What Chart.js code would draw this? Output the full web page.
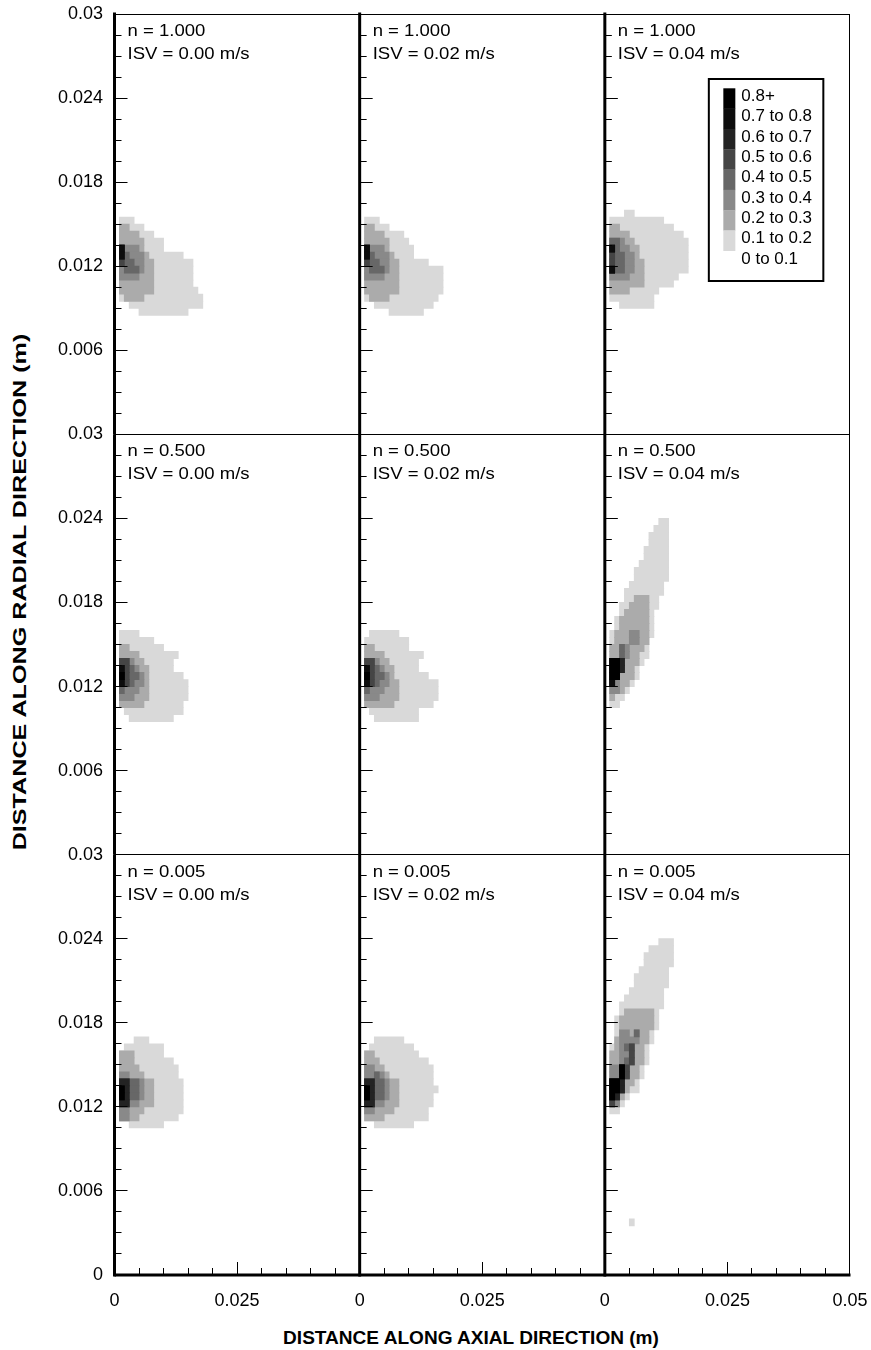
<!DOCTYPE html>
<html>
<head>
<meta charset="utf-8">
<title>Contour panels</title>
<script src="https://cdn.jsdelivr.net/npm/chart.js@4.4.1/dist/chart.umd.min.js"></script>
<style>
  html, body { margin: 0; background: #fff; }
  #page { position: relative; width: 871px; height: 1350px; overflow: hidden; }
  #page canvas { position: absolute; left: 0; top: 0; }
  .axis-title { position: absolute; white-space: nowrap; font: bold 18.5px "Liberation Sans", Arial, sans-serif; line-height: 1; color: #000; }
  #xTitle { left: 470.5px; top: 1329px; transform: translateX(-50%) scaleX(1.03); }
  #yTitle { left: 20px; top: 592px; transform: translate(-50%, -50%) rotate(-90deg) scaleX(1.36); }
</style>
</head>
<body>
<div id="page">
  <div class="axis-title" id="xTitle">DISTANCE ALONG AXIAL DIRECTION (m)</div>
  <div class="axis-title" id="yTitle">DISTANCE ALONG RADIAL DIRECTION (m)</div>
</div>
<script>
Chart.defaults.font.family = '"Liberation Sans", Arial, sans-serif';
Chart.defaults.color = '#000';

const N_VALUES = ['1.000', '0.500', '0.005'];
const ISV_VALUES = ['0.00', '0.02', '0.04'];

const X_TICKS = [0, 0.005, 0.01, 0.015, 0.02, 0.025, 0.03, 0.035, 0.04, 0.045, 0.05];
const X_MAJOR = [0, 0.025, 0.05];
const X_LABELS = ['0', '0.025', '0.05'];
const Y_TICKS = [0, 0.0015, 0.003, 0.0045, 0.006, 0.0075, 0.009, 0.0105, 0.012, 0.0135, 0.015,
  0.0165, 0.018, 0.0195, 0.021, 0.0225, 0.024, 0.0255, 0.027, 0.0285, 0.03];
const Y_MAJOR = [0, 0.006, 0.012, 0.018, 0.024, 0.03];
const Y_LABELS = ['0', '0.006', '0.012', '0.018', '0.024', '0.03'];

const LEGEND_LABELS = ['0.8+', '0.7 to 0.8', '0.6 to 0.7', '0.5 to 0.6', '0.4 to 0.5',
  '0.3 to 0.4', '0.2 to 0.3', '0.1 to 0.2', '0 to 0.1'];
const LEVEL_COLORS = ['#ffffff', '#d9d9d9', '#ababab', '#898989', '#676767',
  '#454545', '#232323', '#0d0d0d', '#000000'];

// cell grid: columns of 0.001 m starting at x = 0, rows of 0.0005 m going down from a top value
// '.' = 0 to 0.1, digit k = k/10 to (k+1)/10, 8 = 0.8+
const CELL_W = 0.001, CELL_H = 0.0005;

const n1000_isv000 = [
  '.111',
  '.22111',
  '.2222111',
  '.222221111',
  '.733321111',
  '.7433321111111',
  '.544332211111111',
  '.344432211111111',
  '.333322211111111',
  '.222222211111111',
  '.2222222111111111',
  '.12222111111111111',
  '...111111111111111',
  '.....1111111111',
];
const n1000_isv002 = [
  '.111',
  '.22111',
  '.22221111',
  '.222221111',
  '.7333211111',
  '.7433321111',
  '.5443322111111',
  '.3444322111111111',
  '.3333222111111111',
  '.2222222111111111',
  '.2222222111111111',
  '.122221111111111',
  '...111111111111',
  '......1111111',
];
const n1000_isv004 = [
  '....11',
  '.11111111111',
  '.2211111111111',
  '.222211111111111',
  '.4432211111111111',
  '.7433221111111111',
  '.5443321111111111',
  '.5443322111111111',
  '.7443322111111111',
  '.33332221111111',
  '.2222222111111',
  '.2222111111',
  '.111111111',
  '...1111111',
];
const n0500_isv000 = [
  '.1111',
  '.1111111',
  '.221111111',
  '.222211111111',
  '.55322111111',
  '.75432211111',
  '.8544321111111',
  '.75433211111111',
  '.43332211111111',
  '.33322211111111',
  '.2222211111111',
  '..111111111111',
  '...111111111',
];
const n0500_isv002 = [
  '..111111',
  '.111111111',
  '.221111111',
  '.222211111111',
  '.55322111111',
  '.75432211111',
  '.8544321111111',
  '.754332211111111',
  '.433322211111111',
  '.333222211111111',
  '.22222211111111',
  '..1111111111',
  '...111111111',
];
const n0500_isv004 = [
  '...........11',
  '..........111',
  '.........1111',
  '.........1111',
  '........11111',
  '........11111',
  '.......111111',
  '......1111111',
  '......1111111',
  '.....1111111',
  '....11111111',
  '....1122211',
  '...11222211',
  '...1222221',
  '..12222221',
  '..12222221',
  '.122233221',
  '.12223322',
  '.22432221',
  '.22432211',
  '.8862221',
  '.886221',
  '.882221',
  '.73221',
  '.3321',
  '.211',
  '.11',
];
const n0005_isv000 = [
  '....111',
  '..11111111',
  '.222111111',
  '.22211111111',
  '.222211111111',
  '.332221111111',
  '.6644322111111',
  '.8644322111111',
  '.8644322111111',
  '.6633222111111',
  '.3322211111111',
  '.332211111111',
  '...1111111',
];
const n0005_isv002 = [
  '...111111',
  '..111111111',
  '.22111111111',
  '.2221111111111',
  '.33221111111111',
  '.33432111111111',
  '.66443221111111',
  '.864432211111111',
  '.86443221111111',
  '.66332221111111',
  '.3322221111111',
  '.2222111111111',
  '...11111111',
];
const n0005_isv004 = [
  '...........111',
  '.........11111',
  '........111111',
  '........111111',
  '.......111111',
  '......1111111',
  '......1111111',
  '.....1111111',
  '....11111111',
  '...111111111',
  '...12222221',
  '..122222221',
  '..122222221',
  '..13324221',
  '..23333221',
  '.12345221',
  '.22335221',
  '.22345221',
  '.3385221',
  '.3385221',
  '.886221',
  '.886211',
  '.8621',
  '.531',
  '.11',
];
const n0005_isv004_speck = ['.....1'];

// [top of first row (m), rows] for each panel, row by row
const PANEL_BLOCKS = [
  [[0.0155, n1000_isv000]], [[0.0155, n1000_isv002]], [[0.016, n1000_isv004]],
  [[0.016, n0500_isv000]], [[0.016, n0500_isv002]], [[0.024, n0500_isv004]],
  [[0.017, n0005_isv000]], [[0.017, n0005_isv002]], [[0.024, n0005_isv004], [0.004, n0005_isv004_speck]],
];

const PAGE_W = 871, PAGE_H = 1350;
const PLOT_L = 114.5, PLOT_T = 14, PLOT_R = 850, PLOT_B = 1275;
const COL_W = (PLOT_R - PLOT_L) / 3, ROW_H = (PLOT_B - PLOT_T) / 3;
const ROW_PX = ROW_H * CELL_H / 0.03;
const Y_AXIS_W = 100, X_AXIS_H = 70;

// one floating bar per run of cells at or above a level, lighter levels first
function buildBars(blocks) {
  const bars = [];
  blocks.forEach(([top, rows]) => {
    rows.forEach((line, r) => {
      const yc = top - (r + 0.5) * CELL_H;
      for (let k = 1; k <= 8; k++) {
        let start = -1;
        for (let c = 0; c <= line.length; c++) {
          const lv = c < line.length && line[c] !== '.' ? +line[c] : 0;
          if (lv >= k && start < 0) start = c;
          if (lv < k && start >= 0) {
            bars.push({ y: yc, x: [start * CELL_W, c * CELL_W], level: k });
            start = -1;
          }
        }
      }
    });
  });
  return bars.sort((a, b) => a.level - b.level);
}

function drawLegend(ctx, a) {
  const bx = a.left + 104, by = a.top + 65, bw = 114.5, bh = 202;
  ctx.fillStyle = '#fff';
  ctx.fillRect(bx, by, bw, bh);
  ctx.lineWidth = 2;
  ctx.strokeRect(bx, by, bw, bh);
  ctx.font = '16px "Liberation Sans", Arial, sans-serif';
  ctx.textBaseline = 'middle';
  LEGEND_LABELS.forEach((text, i) => {
    const level = 8 - i;
    if (level > 0) {
      ctx.fillStyle = LEVEL_COLORS[level];
      ctx.fillRect(bx + 14.5, by + 9.3 + 20.3 * i, 12, 20.6);
    }
    ctx.fillStyle = '#000';
    ctx.save();
    ctx.translate(bx + 32.5, by + 17.7 + 20.3 * i);
    ctx.scale(1.06, 1);
    ctx.fillText(text, 0, 0);
    ctx.restore();
  });
}

const panelFrame = {
  id: 'panelFrame',
  afterDraw(chart, args, opts) {
    const { ctx, chartArea: a } = chart;
    const { x, y } = chart.scales;
    const { row, col } = opts;
    const seg = (x0, y0, x1, y1) => { ctx.beginPath(); ctx.moveTo(x0, y0); ctx.lineTo(x1, y1); ctx.stroke(); };
    ctx.save();
    ctx.strokeStyle = '#000';
    ctx.lineWidth = 1;
    Y_TICKS.forEach(v => {
      const py = Math.floor(y.getPixelForValue(v)) + 0.5;
      seg(a.left, py, a.left + (Y_MAJOR.includes(v) ? 13 : 7), py);
    });
    if (row === 2) {
      X_TICKS.forEach(v => {
        const px = Math.floor(x.getPixelForValue(v)) + 0.5;
        seg(px, a.bottom, px, a.bottom - (X_MAJOR.includes(v) ? 13 : 7));
      });
    }
    const ty = Math.floor(a.top) + 0.5;
    seg(a.left, ty, a.right, ty);
    if (col === 2) seg(Math.floor(a.right) + 0.5, a.top, Math.floor(a.right) + 0.5, a.bottom);
    ctx.lineWidth = 3;
    seg(a.left, a.top - (row === 0 ? 1.5 : 0), a.left, a.bottom + (row === 2 ? 1.5 : 0));
    if (row === 2) seg(a.left, a.bottom, a.right + 0.5, a.bottom);

    ctx.fillStyle = '#000';
    ctx.font = '17px "Liberation Sans", Arial, sans-serif';
    ctx.textBaseline = 'alphabetic';
    const note = (text, dy) => {
      ctx.save();
      ctx.translate(a.left + 13, a.top + dy);
      ctx.scale(1.09, 1);
      ctx.fillText(text, 0, 0);
      ctx.restore();
    };
    note('n = ' + N_VALUES[row], 22);
    note('ISV = ' + ISV_VALUES[col] + ' m/s', 45);
    if (opts.legend) drawLegend(ctx, a);
    ctx.restore();
  }
};

const page = document.getElementById('page');
for (let row = 0; row < 3; row++) {
  for (let col = 0; col < 3; col++) {
    const bars = buildBars(PANEL_BLOCKS[row * 3 + col]);
    const left = PLOT_L + col * COL_W, top = PLOT_T + row * ROW_H;
    const canvas = document.createElement('canvas');
    canvas.width = PAGE_W;
    canvas.height = PAGE_H;
    page.appendChild(canvas);

    new Chart(canvas, {
      type: 'bar',
      data: {
        datasets: [{
          data: bars,
          backgroundColor: bars.map(b => LEVEL_COLORS[b.level]),
          borderWidth: 0,
          barThickness: ROW_PX,
          inflateAmount: 0.4,
        }],
      },
      options: {
        indexAxis: 'y',
        responsive: false,
        animation: false,
        devicePixelRatio: 1,
        events: [],
        layout: {
          padding: {
            left: left - Y_AXIS_W,
            top,
            right: PAGE_W - left - COL_W,
            bottom: PAGE_H - top - ROW_H - X_AXIS_H,
          },
        },
        plugins: {
          legend: { display: false },
          tooltip: { enabled: false },
          panelFrame: { row, col, legend: row === 0 && col === 2 },
        },
        scales: {
          x: {
            type: 'linear', min: 0, max: 0.05, offset: false,
            grid: { display: false, drawTicks: false },
            border: { display: false },
            afterFit: s => { s.height = X_AXIS_H; s.paddingLeft = 0; s.paddingRight = 0; },
            afterBuildTicks: s => { s.ticks = X_TICKS.map(v => ({ value: v })); },
            ticks: {
              autoSkip: false, maxRotation: 0, minRotation: 0, padding: 15,
              font: { size: 18 },
              callback: v => {
                const i = X_MAJOR.indexOf(v);
                if (row !== 2 || i < 0 || (v === 0.05 && col !== 2)) return '';
                return X_LABELS[i];
              },
            },
          },
          y: {
            type: 'linear', min: 0, max: 0.03, offset: false,
            grid: { display: false, drawTicks: false },
            border: { display: false },
            afterFit: s => { s.width = Y_AXIS_W; s.paddingTop = 0; s.paddingBottom = 0; },
            afterBuildTicks: s => { s.ticks = Y_TICKS.map(v => ({ value: v })); },
            ticks: {
              autoSkip: false, padding: 11.5,
              font: { size: 18 },
              callback: v => {
                const i = Y_MAJOR.indexOf(v);
                if (col !== 0 || i < 0 || (v === 0 && row !== 2)) return '';
                return Y_LABELS[i];
              },
            },
          },
        },
      },
      plugins: [panelFrame],
    });
  }
}
</script>
</body>
</html>
